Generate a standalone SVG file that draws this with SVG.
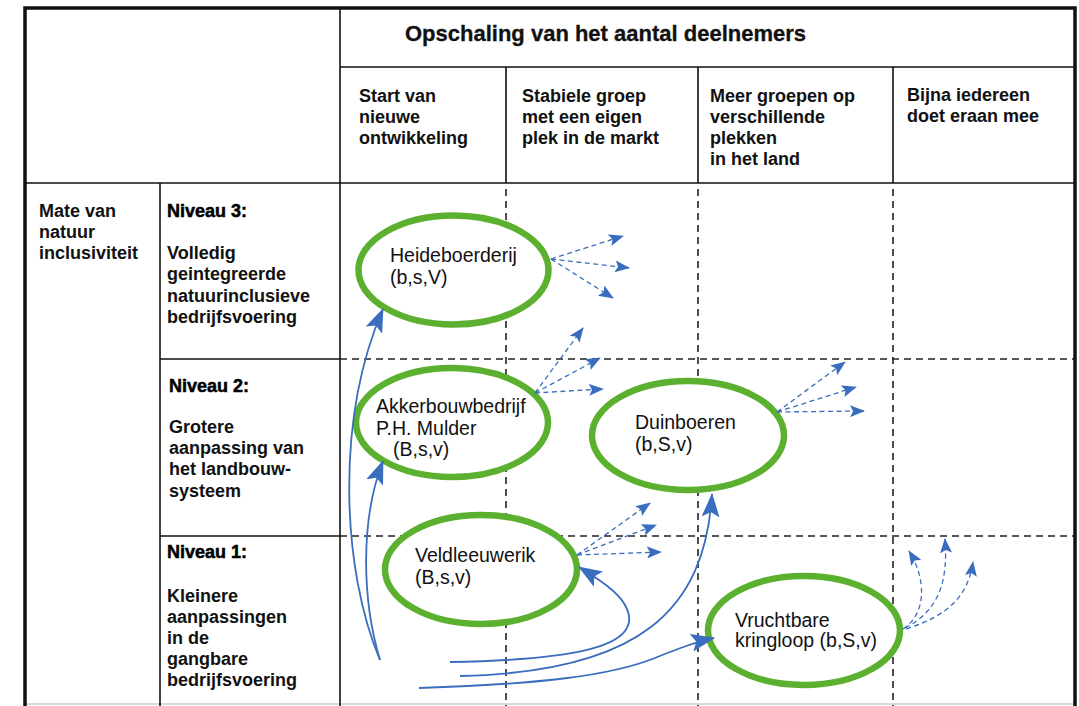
<svg xmlns="http://www.w3.org/2000/svg" width="1079" height="706" viewBox="0 0 1079 706">
<defs>
<style>
.hdr{font-family:"Liberation Sans",Arial,sans-serif;font-weight:bold;font-size:18px;fill:#111}
.ttl{font-family:"Liberation Sans",Arial,sans-serif;font-weight:bold;font-size:22px;fill:#111;stroke:#111;stroke-width:0.3}
.niv{font-family:"Liberation Sans",Arial,sans-serif;font-weight:bold;font-size:18px;fill:#000;stroke:#000;stroke-width:0.5}
.lbl{font-family:"Liberation Sans",Arial,sans-serif;font-size:19.5px;fill:#111}
.solid{stroke:#111;stroke-width:1.6;fill:none}
.dash{stroke:#222;stroke-width:1.6;stroke-dasharray:7,5;fill:none}
.node{fill:#fff;stroke:#5cb030;stroke-width:6.5}
.flow{fill:none;stroke:#3a6dbd;stroke-width:1.8}
.spread{fill:none;stroke:#3a6dbd;stroke-width:1.3;stroke-dasharray:5,3.5}
</style>
<marker id="big" viewBox="0 0 24 18" refX="23" refY="9" markerWidth="24" markerHeight="18" markerUnits="userSpaceOnUse" orient="auto">
<path d="M0,0 L24,9 L0,18 L5,9 Z" fill="#3a6dbd"/>
</marker>
<marker id="small" viewBox="0 0 15 12" refX="14" refY="6" markerWidth="15" markerHeight="12" markerUnits="userSpaceOnUse" orient="auto">
<path d="M0,0 L15,6 L0,12 L3,6 Z" fill="#3a6dbd"/>
</marker>
</defs>
<rect width="1079" height="706" fill="#fff"/>

<g id="grid">
<line x1="25" y1="704" x2="1075" y2="704" stroke="#ccc" stroke-width="1.5"/>
<line class="solid" x1="340" y1="8" x2="340" y2="706"/>
<line class="solid" x1="340" y1="67" x2="1075" y2="67"/>
<line class="solid" x1="25" y1="183" x2="1075" y2="183"/>
<line class="solid" x1="506" y1="67" x2="506" y2="183"/>
<line class="solid" x1="698" y1="67" x2="698" y2="183"/>
<line class="solid" x1="893" y1="67" x2="893" y2="183"/>
<line class="solid" x1="160" y1="183" x2="160" y2="706"/>
<line class="solid" x1="160" y1="359" x2="340" y2="359"/>
<line class="solid" x1="160" y1="536" x2="340" y2="536"/>
<line class="dash" x1="340" y1="359" x2="1075" y2="359"/>
<line class="dash" x1="340" y1="536" x2="1075" y2="536"/>
<line class="dash" x1="506" y1="189" x2="506" y2="706"/>
<line class="dash" x1="698" y1="189" x2="698" y2="706"/>
<line class="dash" x1="893" y1="189" x2="893" y2="706"/>
<path d="M25,706 L25,8 L1075,8 L1075,706" fill="none" stroke="#111" stroke-width="3.5"/>
</g>

<g id="header">
<text class="ttl" x="405" y="41">Opschaling van het aantal deelnemers</text>
<text class="hdr" x="359"><tspan x="359" y="102">Start van</tspan><tspan x="359" y="123">nieuwe</tspan><tspan x="359" y="144">ontwikkeling</tspan></text>
<text class="hdr" x="522"><tspan x="522" y="102">Stabiele groep</tspan><tspan x="522" y="123">met een eigen</tspan><tspan x="522" y="144">plek in de markt</tspan></text>
<text class="hdr" x="710"><tspan x="710" y="102">Meer groepen op</tspan><tspan x="710" y="123">verschillende</tspan><tspan x="710" y="144">plekken</tspan><tspan x="710" y="165">in het land</tspan></text>
<text class="hdr" x="907"><tspan x="907" y="101">Bijna iedereen</tspan><tspan x="907" y="122">doet eraan mee</tspan></text>
</g>

<g id="rows">
<text class="hdr" x="39"><tspan x="39" y="217">Mate van</tspan><tspan x="39" y="238">natuur</tspan><tspan x="39" y="259">inclusiviteit</tspan></text>
<text class="niv" x="167" y="217">Niveau 3:</text>
<text class="hdr" x="167"><tspan x="167" y="259">Volledig</tspan><tspan x="167" y="280">geintegreerde</tspan><tspan x="167" y="302">natuurinclusieve</tspan><tspan x="167" y="323">bedrijfsvoering</tspan></text>
<text class="niv" x="169" y="392">Niveau 2:</text>
<text class="hdr" x="169"><tspan x="169" y="433">Grotere</tspan><tspan x="169" y="454">aanpassing van</tspan><tspan x="169" y="475">het landbouw-</tspan><tspan x="169" y="497">systeem</tspan></text>
<text class="niv" x="167" y="558">Niveau 1:</text>
<text class="hdr" x="167"><tspan x="167" y="602">Kleinere</tspan><tspan x="167" y="623">aanpassingen</tspan><tspan x="167" y="644">in de</tspan><tspan x="167" y="665">gangbare</tspan><tspan x="167" y="686">bedrijfsvoering</tspan></text>
</g>

<g id="node-heideboerderij">
<ellipse class="node" cx="453.5" cy="270" rx="95" ry="54.5"/>
<text class="lbl"><tspan x="390" y="262">Heideboerderij</tspan><tspan x="390" y="284">(b,s,V)</tspan></text>
</g>
<g id="node-akkerbouw">
<ellipse class="node" cx="452" cy="422.5" rx="96" ry="54.5"/>
<text class="lbl"><tspan x="376" y="413">Akkerbouwbedrijf</tspan><tspan x="376" y="435">P.H. Mulder</tspan><tspan x="393" y="456">(B,s,v)</tspan></text>
</g>
<g id="node-duinboeren">
<ellipse class="node" cx="688" cy="435.5" rx="96" ry="54.5"/>
<text class="lbl"><tspan x="635" y="429">Duinboeren</tspan><tspan x="635" y="451">(b,S,v)</tspan></text>
</g>
<g id="node-veldleeuwerik">
<ellipse class="node" cx="481" cy="569.5" rx="96" ry="54.5"/>
<text class="lbl"><tspan x="415" y="562">Veldleeuwerik</tspan><tspan x="415" y="584">(B,s,v)</tspan></text>
</g>
<g id="node-vruchtbare">
<ellipse class="node" cx="804" cy="630.5" rx="96" ry="54.5"/>
<text class="lbl"><tspan x="735" y="627">Vruchtbare</tspan><tspan x="735" y="647">kringloop (b,S,v)</tspan></text>
</g>

<g id="connectors">
<path class="flow" marker-end="url(#big)" d="M380,660 C342,570 335,420 383,309"/>
<path class="flow" marker-end="url(#big)" d="M380,660 C362,600 360,520 383,461"/>
<path class="flow" marker-end="url(#big)" d="M450,662 C560,660 650,650 625,605 C618,592 600,580 579,567"/>
<path class="flow" marker-end="url(#big)" d="M460,676 C640,672 705,610 712,494"/>
<path class="flow" marker-end="url(#big)" d="M419,688 C540,684 610,676 655,658 C680,648 695,642 714,638"/>

<path class="spread" marker-end="url(#small)" d="M551,259 L623,236"/>
<path class="spread" marker-end="url(#small)" d="M551,259 L629,268"/>
<path class="spread" marker-end="url(#small)" d="M551,259 L613,298"/>

<path class="spread" marker-end="url(#small)" d="M535,393 L583,328"/>
<path class="spread" marker-end="url(#small)" d="M535,393 L600,358"/>
<path class="spread" marker-end="url(#small)" d="M535,393 L603,389"/>

<path class="spread" marker-end="url(#small)" d="M777,412 L845,362"/>
<path class="spread" marker-end="url(#small)" d="M777,412 L856,387"/>
<path class="spread" marker-end="url(#small)" d="M777,412 L864,411"/>

<path class="spread" marker-end="url(#small)" d="M577,555 L650,503"/>
<path class="spread" marker-end="url(#small)" d="M577,555 L656,525"/>
<path class="spread" marker-end="url(#small)" d="M577,555 L661,552"/>

<path class="spread" marker-end="url(#small)" d="M903,629 C925,615 928,582 909,551"/>
<path class="spread" marker-end="url(#small)" d="M905,628 C940,610 948,580 945,539"/>
<path class="spread" marker-end="url(#small)" d="M906,629 C950,615 968,595 973,562"/>
</g>
</svg>
